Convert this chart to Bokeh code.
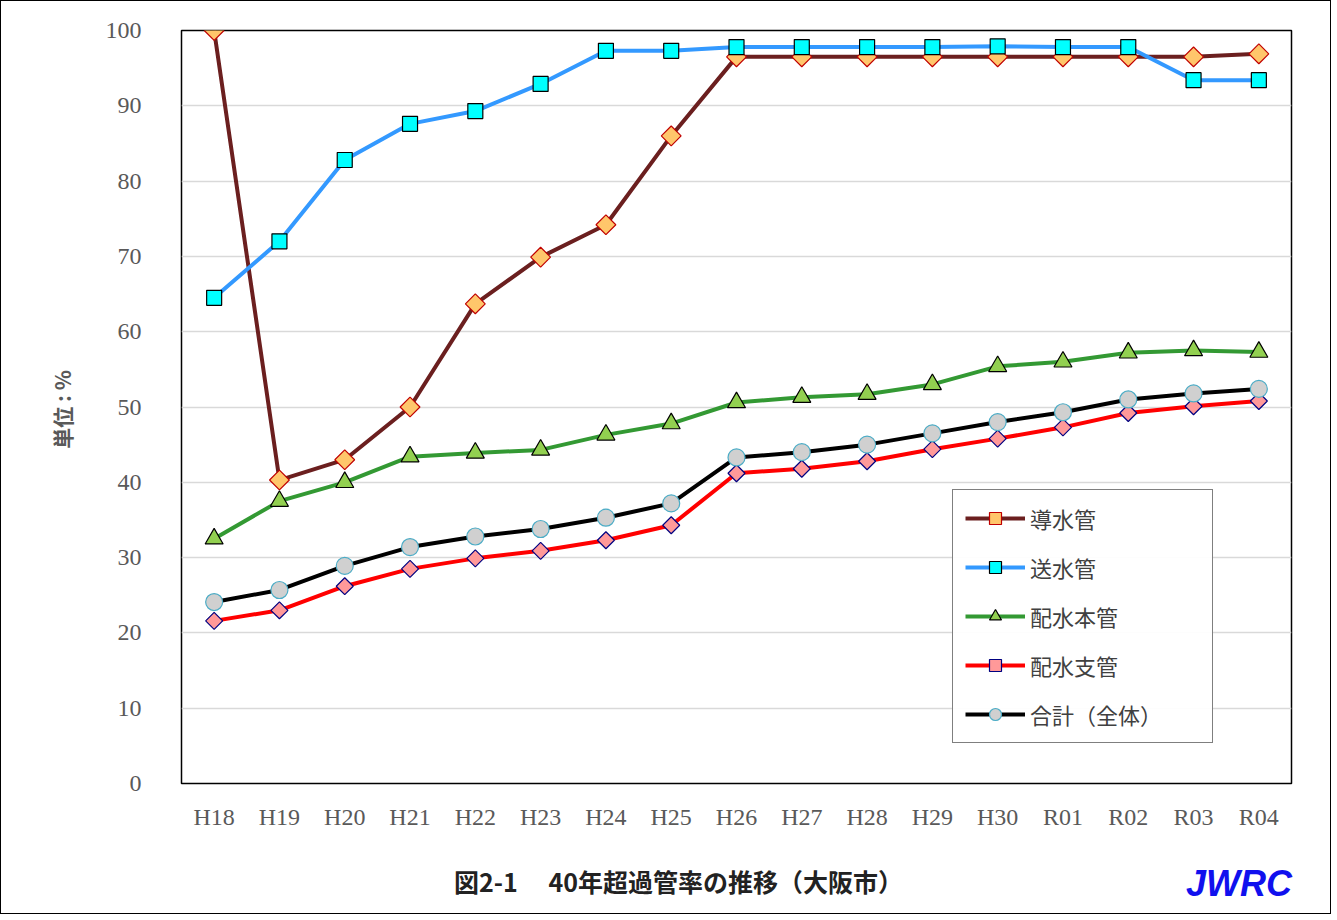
from bokeh.plotting import figure
from bokeh.models import Legend, LegendItem, FixedTicker, Div
from bokeh.layouts import column
from bokeh.embed import file_html
from bokeh.resources import INLINE

years = ["H18", "H19", "H20", "H21", "H22", "H23", "H24", "H25", "H26", "H27",
         "H28", "H29", "H30", "R01", "R02", "R03", "R04"]
dosui = [100, 40.3, 43, 50, 63.7, 69.9, 74.2, 86, 96.5, 96.5, 96.5, 96.5, 96.5, 96.5, 96.5, 96.5, 96.9]
sosui = [64.5, 72, 82.8, 87.6, 89.3, 92.9, 97.3, 97.3, 97.8, 97.8, 97.8, 97.8, 97.9, 97.8, 97.8, 93.4, 93.4]
haisui_hon = [32.5, 37.5, 40, 43.4, 43.9, 44.3, 46.3, 47.8, 50.6, 51.3, 51.7, 53, 55.4, 56, 57.2, 57.5, 57.3]
haisui_shi = [21.6, 23, 26.2, 28.5, 29.9, 30.9, 32.3, 34.3, 41.2, 41.8, 42.8, 44.4, 45.8, 47.3, 49.2, 50.1, 50.8]
total = [24.1, 25.7, 28.9, 31.4, 32.8, 33.8, 35.3, 37.2, 43.3, 44, 45, 46.5, 48, 49.3, 51, 51.8, 52.4]

xs = list(range(1, len(years) + 1))
cjk = "Noto Sans CJK JP"

p = figure(width=1319, height=850, x_range=(0.5, 17.5), y_range=(0, 100),
           output_backend="svg", toolbar_location=None,
           min_border_left=180, min_border_right=29, min_border_top=29, min_border_bottom=68)
p.outline_line_color = "black"
p.outline_line_width = 1.5
p.xgrid.visible = False
p.ygrid.grid_line_color = "#d9d9d9"
p.ygrid.grid_line_width = 1.5

p.xaxis.ticker = FixedTicker(ticks=xs)
p.xaxis.major_label_overrides = {i: y for i, y in zip(xs, years)}
p.yaxis.ticker = FixedTicker(ticks=list(range(0, 101, 10)))
for ax in (p.xaxis, p.yaxis):
    ax.axis_line_color = None
    ax.major_tick_line_color = None
    ax.minor_tick_line_color = None
    ax.major_label_text_font = "Liberation Serif"
    ax.major_label_text_font_size = "24px"
    ax.major_label_text_color = "#595959"
p.xaxis.major_label_standoff = 14
p.yaxis.major_label_standoff = 34
p.yaxis.axis_label = "単位 :  %"
p.yaxis.axis_label_text_font = cjk
p.yaxis.axis_label_text_font_style = "bold"
p.yaxis.axis_label_text_font_size = "21px"
p.yaxis.axis_label_text_color = "#595959"
p.yaxis.axis_label_standoff = 26

series = [
    ("導水管", dosui, "#6b1f1f", "square", 0.785, "#ffc66b", "#c00000", 14),
    ("送水管", sosui, "#3399ff", "square", 0, "#00ffff", "black", 15),
    ("配水本管", haisui_hon, "#339933", "triangle", 0, "#92d050", "black", 18),
    ("配水支管", haisui_shi, "#ff0000", "square", 0.785, "#ff9999", "#000080", 12),
    ("合計（全体）", total, "black", "circle", 0, "#d0d0d0", "#4bacc6", 17),
]
items = []
for name, vals, lc, mk, ang, fc, oc, sz in series:
    r1 = p.line(xs, vals, line_color=lc, line_width=4)
    r2 = p.scatter(xs, vals, marker=mk, angle=ang, size=sz, fill_color=fc, line_color=oc, line_width=1.2)
    items.append(LegendItem(label=name, renderers=[r1, r2]))

leg = Legend(items=items, location=(771, 40), glyph_width=60, glyph_height=30,
             label_text_font=cjk, label_text_font_size="22px", label_text_color="#404040",
             spacing=17, padding=12, margin=0,
             border_line_color="black", border_line_width=1.5, label_width=170)
p.add_layout(leg, "center")

caption = Div(width=1319, height=52, text=(
    "<div style='position:relative;width:1319px;height:52px;'>"
    "<span style='position:absolute;left:448px;top:8px;font-family:\"Noto Sans CJK JP\";"
    "font-size:25px;font-weight:bold;color:#222;white-space:nowrap;'>図2-1　 40年超過管率の推移（大阪市）</span>"
    "<span style='position:absolute;left:1180px;top:2px;font-family:\"Liberation Sans\";"
    "font-size:36px;font-weight:bold;font-style:italic;color:#1010ee;'>JWRC</span></div>"))

layout = column(p, caption, spacing=0)
layout.styles = {"border": "1.5px solid black"}
open("out.html", "w").write(file_html(layout, INLINE))
